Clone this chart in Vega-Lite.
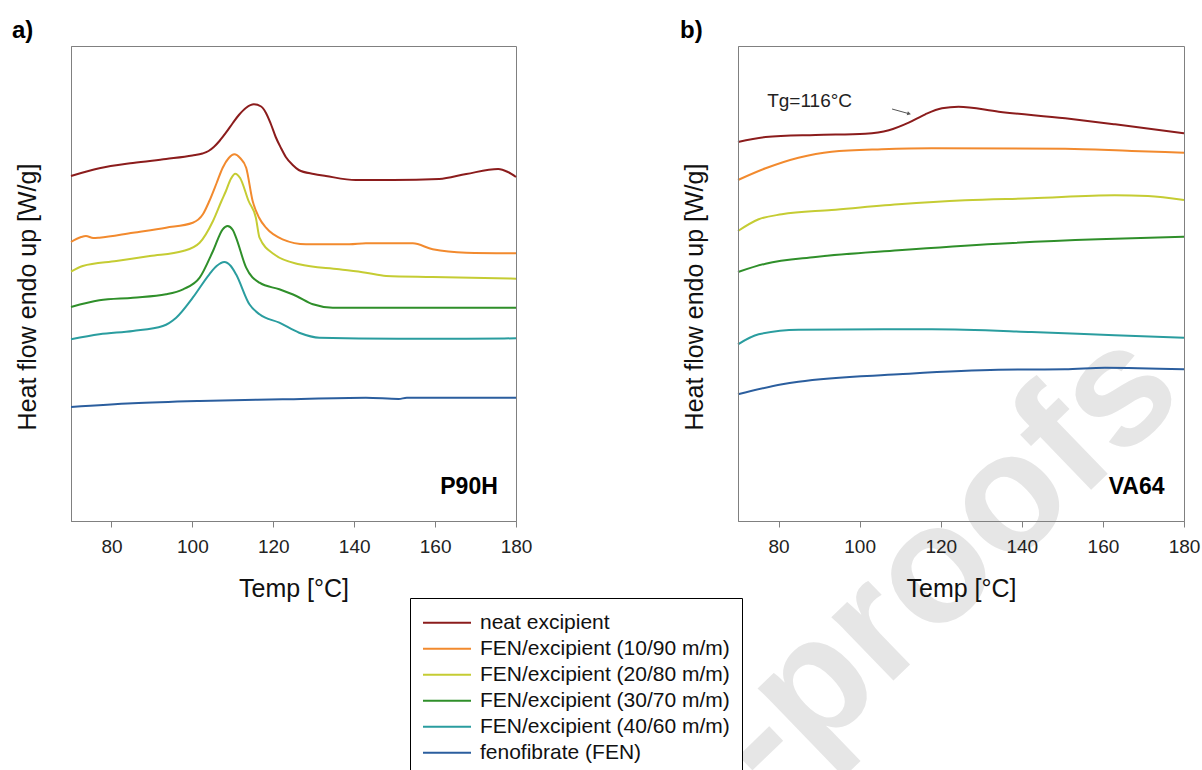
{
  "$schema": "https://vega.github.io/schema/vega-lite/v6.json",
  "background": "white",
  "padding": {"left": 11, "top": 18, "right": 0, "bottom": 0},
  "config": {
    "font": "Liberation Sans",
    "view": {"stroke": "#808080", "strokeWidth": 1},
    "axis": {"grid": false}
  },
  "bounds": "flush",
  "spacing": 222,
  "datasets": {
    "p90h": [
      {"series": "neat excipient", "T": 70, "v": 345},
      {"series": "neat excipient", "T": 77, "v": 352.7},
      {"series": "neat excipient", "T": 85.3, "v": 358},
      {"series": "neat excipient", "T": 93.5, "v": 362},
      {"series": "neat excipient", "T": 100, "v": 365.5},
      {"series": "neat excipient", "T": 102.5, "v": 367.5},
      {"series": "neat excipient", "T": 104, "v": 370},
      {"series": "neat excipient", "T": 105.3, "v": 374},
      {"series": "neat excipient", "T": 106.7, "v": 380},
      {"series": "neat excipient", "T": 108.3, "v": 388.3},
      {"series": "neat excipient", "T": 110, "v": 398},
      {"series": "neat excipient", "T": 111.5, "v": 406},
      {"series": "neat excipient", "T": 113.3, "v": 413.3},
      {"series": "neat excipient", "T": 115.2, "v": 416.7},
      {"series": "neat excipient", "T": 117, "v": 414.5},
      {"series": "neat excipient", "T": 118.2, "v": 408},
      {"series": "neat excipient", "T": 119.4, "v": 397},
      {"series": "neat excipient", "T": 120.6, "v": 384},
      {"series": "neat excipient", "T": 121.9, "v": 373},
      {"series": "neat excipient", "T": 123.1, "v": 364},
      {"series": "neat excipient", "T": 124.8, "v": 356},
      {"series": "neat excipient", "T": 126.3, "v": 351},
      {"series": "neat excipient", "T": 130, "v": 347},
      {"series": "neat excipient", "T": 133, "v": 345},
      {"series": "neat excipient", "T": 140.4, "v": 341},
      {"series": "neat excipient", "T": 149.6, "v": 341},
      {"series": "neat excipient", "T": 161, "v": 342},
      {"series": "neat excipient", "T": 167.7, "v": 347},
      {"series": "neat excipient", "T": 175.6, "v": 352},
      {"series": "neat excipient", "T": 178, "v": 349},
      {"series": "neat excipient", "T": 180, "v": 344},

      {"series": "FEN/excipient (10/90 m/m)", "T": 70, "v": 279},
      {"series": "FEN/excipient (10/90 m/m)", "T": 72.5, "v": 284},
      {"series": "FEN/excipient (10/90 m/m)", "T": 73.7, "v": 285},
      {"series": "FEN/excipient (10/90 m/m)", "T": 75.5, "v": 283},
      {"series": "FEN/excipient (10/90 m/m)", "T": 77, "v": 283.3},
      {"series": "FEN/excipient (10/90 m/m)", "T": 85.3, "v": 288.3},
      {"series": "FEN/excipient (10/90 m/m)", "T": 93.5, "v": 293.3},
      {"series": "FEN/excipient (10/90 m/m)", "T": 100.1, "v": 298.3},
      {"series": "FEN/excipient (10/90 m/m)", "T": 102.6, "v": 306.7},
      {"series": "FEN/excipient (10/90 m/m)", "T": 104.2, "v": 320},
      {"series": "FEN/excipient (10/90 m/m)", "T": 106, "v": 338},
      {"series": "FEN/excipient (10/90 m/m)", "T": 107.5, "v": 353.3},
      {"series": "FEN/excipient (10/90 m/m)", "T": 109, "v": 363},
      {"series": "FEN/excipient (10/90 m/m)", "T": 110.4, "v": 366.7},
      {"series": "FEN/excipient (10/90 m/m)", "T": 111.8, "v": 363},
      {"series": "FEN/excipient (10/90 m/m)", "T": 113.3, "v": 353.3},
      {"series": "FEN/excipient (10/90 m/m)", "T": 114.9, "v": 320},
      {"series": "FEN/excipient (10/90 m/m)", "T": 116.5, "v": 303.3},
      {"series": "FEN/excipient (10/90 m/m)", "T": 118.2, "v": 293.3},
      {"series": "FEN/excipient (10/90 m/m)", "T": 122.3, "v": 281.7},
      {"series": "FEN/excipient (10/90 m/m)", "T": 128.1, "v": 276.7},
      {"series": "FEN/excipient (10/90 m/m)", "T": 138.8, "v": 276.7},
      {"series": "FEN/excipient (10/90 m/m)", "T": 142.9, "v": 277.7},
      {"series": "FEN/excipient (10/90 m/m)", "T": 154.5, "v": 277.7},
      {"series": "FEN/excipient (10/90 m/m)", "T": 159.4, "v": 271.7},
      {"series": "FEN/excipient (10/90 m/m)", "T": 167.7, "v": 268.3},
      {"series": "FEN/excipient (10/90 m/m)", "T": 180, "v": 267.7},

      {"series": "FEN/excipient (20/80 m/m)", "T": 70, "v": 249.3},
      {"series": "FEN/excipient (20/80 m/m)", "T": 72.9, "v": 255},
      {"series": "FEN/excipient (20/80 m/m)", "T": 81.2, "v": 260},
      {"series": "FEN/excipient (20/80 m/m)", "T": 89.5, "v": 265},
      {"series": "FEN/excipient (20/80 m/m)", "T": 97.7, "v": 270},
      {"series": "FEN/excipient (20/80 m/m)", "T": 101.8, "v": 278.3},
      {"series": "FEN/excipient (20/80 m/m)", "T": 105.1, "v": 300},
      {"series": "FEN/excipient (20/80 m/m)", "T": 107.2, "v": 320},
      {"series": "FEN/excipient (20/80 m/m)", "T": 108.3, "v": 330},
      {"series": "FEN/excipient (20/80 m/m)", "T": 109.5, "v": 342},
      {"series": "FEN/excipient (20/80 m/m)", "T": 110.6, "v": 347.3},
      {"series": "FEN/excipient (20/80 m/m)", "T": 111.8, "v": 343},
      {"series": "FEN/excipient (20/80 m/m)", "T": 113.9, "v": 320},
      {"series": "FEN/excipient (20/80 m/m)", "T": 115.7, "v": 303.3},
      {"series": "FEN/excipient (20/80 m/m)", "T": 116.6, "v": 283.3},
      {"series": "FEN/excipient (20/80 m/m)", "T": 120.2, "v": 266.7},
      {"series": "FEN/excipient (20/80 m/m)", "T": 126.4, "v": 256.7},
      {"series": "FEN/excipient (20/80 m/m)", "T": 136.3, "v": 251.7},
      {"series": "FEN/excipient (20/80 m/m)", "T": 142.9, "v": 248.3},
      {"series": "FEN/excipient (20/80 m/m)", "T": 147.9, "v": 245},
      {"series": "FEN/excipient (20/80 m/m)", "T": 159.4, "v": 244},
      {"series": "FEN/excipient (20/80 m/m)", "T": 180, "v": 242.3},

      {"series": "FEN/excipient (30/70 m/m)", "T": 70, "v": 214},
      {"series": "FEN/excipient (30/70 m/m)", "T": 77, "v": 220.7},
      {"series": "FEN/excipient (30/70 m/m)", "T": 85.3, "v": 223.3},
      {"series": "FEN/excipient (30/70 m/m)", "T": 93.5, "v": 226.7},
      {"series": "FEN/excipient (30/70 m/m)", "T": 97.7, "v": 231.7},
      {"series": "FEN/excipient (30/70 m/m)", "T": 101.8, "v": 243.3},
      {"series": "FEN/excipient (30/70 m/m)", "T": 105.1, "v": 270},
      {"series": "FEN/excipient (30/70 m/m)", "T": 107.5, "v": 291.7},
      {"series": "FEN/excipient (30/70 m/m)", "T": 108.7, "v": 295},
      {"series": "FEN/excipient (30/70 m/m)", "T": 110, "v": 291},
      {"series": "FEN/excipient (30/70 m/m)", "T": 110.8, "v": 283.3},
      {"series": "FEN/excipient (30/70 m/m)", "T": 113.3, "v": 253.3},
      {"series": "FEN/excipient (30/70 m/m)", "T": 116.6, "v": 238.3},
      {"series": "FEN/excipient (30/70 m/m)", "T": 121.5, "v": 231.7},
      {"series": "FEN/excipient (30/70 m/m)", "T": 125.7, "v": 225},
      {"series": "FEN/excipient (30/70 m/m)", "T": 129.8, "v": 216.7},
      {"series": "FEN/excipient (30/70 m/m)", "T": 134.7, "v": 213.3},
      {"series": "FEN/excipient (30/70 m/m)", "T": 180, "v": 213.3},

      {"series": "FEN/excipient (40/60 m/m)", "T": 70, "v": 181.7},
      {"series": "FEN/excipient (40/60 m/m)", "T": 77, "v": 186.7},
      {"series": "FEN/excipient (40/60 m/m)", "T": 85.3, "v": 190},
      {"series": "FEN/excipient (40/60 m/m)", "T": 92.7, "v": 195},
      {"series": "FEN/excipient (40/60 m/m)", "T": 96, "v": 203.3},
      {"series": "FEN/excipient (40/60 m/m)", "T": 100.1, "v": 223.3},
      {"series": "FEN/excipient (40/60 m/m)", "T": 104.2, "v": 246.7},
      {"series": "FEN/excipient (40/60 m/m)", "T": 106, "v": 255},
      {"series": "FEN/excipient (40/60 m/m)", "T": 107.9, "v": 259},
      {"series": "FEN/excipient (40/60 m/m)", "T": 109.5, "v": 255},
      {"series": "FEN/excipient (40/60 m/m)", "T": 110.8, "v": 246.7},
      {"series": "FEN/excipient (40/60 m/m)", "T": 114.1, "v": 216.7},
      {"series": "FEN/excipient (40/60 m/m)", "T": 116.6, "v": 206.7},
      {"series": "FEN/excipient (40/60 m/m)", "T": 121.5, "v": 198.3},
      {"series": "FEN/excipient (40/60 m/m)", "T": 126.4, "v": 188.3},
      {"series": "FEN/excipient (40/60 m/m)", "T": 131.4, "v": 183.3},
      {"series": "FEN/excipient (40/60 m/m)", "T": 150.9, "v": 182.3},
      {"series": "FEN/excipient (40/60 m/m)", "T": 167.7, "v": 182.3},
      {"series": "FEN/excipient (40/60 m/m)", "T": 180, "v": 182.7},

      {"series": "fenofibrate (FEN)", "T": 70, "v": 114},
      {"series": "fenofibrate (FEN)", "T": 85.3, "v": 117.7},
      {"series": "fenofibrate (FEN)", "T": 101.8, "v": 120},
      {"series": "fenofibrate (FEN)", "T": 122.3, "v": 121.7},
      {"series": "fenofibrate (FEN)", "T": 142.9, "v": 123.3},
      {"series": "fenofibrate (FEN)", "T": 151, "v": 122},
      {"series": "fenofibrate (FEN)", "T": 153, "v": 123.3},
      {"series": "fenofibrate (FEN)", "T": 180, "v": 123.3}
    ],
    "va64": [
      {"series": "neat excipient", "T": 70, "v": 379},
      {"series": "neat excipient", "T": 76.8, "v": 384},
      {"series": "neat excipient", "T": 89.1, "v": 386},
      {"series": "neat excipient", "T": 101.4, "v": 387.3},
      {"series": "neat excipient", "T": 107.2, "v": 390.7},
      {"series": "neat excipient", "T": 112.1, "v": 398.3},
      {"series": "neat excipient", "T": 116.2, "v": 406.7},
      {"series": "neat excipient", "T": 120.3, "v": 412.7},
      {"series": "neat excipient", "T": 124.4, "v": 414.3},
      {"series": "neat excipient", "T": 134.3, "v": 409.3},
      {"series": "neat excipient", "T": 150.7, "v": 402.7},
      {"series": "neat excipient", "T": 163, "v": 396.7},
      {"series": "neat excipient", "T": 180, "v": 387.7},

      {"series": "FEN/excipient (10/90 m/m)", "T": 70, "v": 341},
      {"series": "FEN/excipient (10/90 m/m)", "T": 76.8, "v": 352.7},
      {"series": "FEN/excipient (10/90 m/m)", "T": 84.9, "v": 363.3},
      {"series": "FEN/excipient (10/90 m/m)", "T": 93.1, "v": 369.3},
      {"series": "FEN/excipient (10/90 m/m)", "T": 105.5, "v": 371.7},
      {"series": "FEN/excipient (10/90 m/m)", "T": 117.8, "v": 372.7},
      {"series": "FEN/excipient (10/90 m/m)", "T": 150.7, "v": 372.3},
      {"series": "FEN/excipient (10/90 m/m)", "T": 167.1, "v": 370},
      {"series": "FEN/excipient (10/90 m/m)", "T": 180, "v": 368.3},

      {"series": "FEN/excipient (20/80 m/m)", "T": 70, "v": 290},
      {"series": "FEN/excipient (20/80 m/m)", "T": 75.1, "v": 301.7},
      {"series": "FEN/excipient (20/80 m/m)", "T": 80.8, "v": 306.7},
      {"series": "FEN/excipient (20/80 m/m)", "T": 93.1, "v": 311},
      {"series": "FEN/excipient (20/80 m/m)", "T": 109.6, "v": 316.7},
      {"series": "FEN/excipient (20/80 m/m)", "T": 126, "v": 320.7},
      {"series": "FEN/excipient (20/80 m/m)", "T": 142.4, "v": 322.7},
      {"series": "FEN/excipient (20/80 m/m)", "T": 162.9, "v": 325.7},
      {"series": "FEN/excipient (20/80 m/m)", "T": 171.1, "v": 325},
      {"series": "FEN/excipient (20/80 m/m)", "T": 180, "v": 321},

      {"series": "FEN/excipient (30/70 m/m)", "T": 70, "v": 249},
      {"series": "FEN/excipient (30/70 m/m)", "T": 76.8, "v": 257.3},
      {"series": "FEN/excipient (30/70 m/m)", "T": 89.1, "v": 264},
      {"series": "FEN/excipient (30/70 m/m)", "T": 109.6, "v": 270.7},
      {"series": "FEN/excipient (30/70 m/m)", "T": 134.2, "v": 277.3},
      {"series": "FEN/excipient (30/70 m/m)", "T": 158.8, "v": 281.7},
      {"series": "FEN/excipient (30/70 m/m)", "T": 180, "v": 284.3},

      {"series": "FEN/excipient (40/60 m/m)", "T": 70, "v": 176.7},
      {"series": "FEN/excipient (40/60 m/m)", "T": 75.1, "v": 186.7},
      {"series": "FEN/excipient (40/60 m/m)", "T": 84.9, "v": 191.3},
      {"series": "FEN/excipient (40/60 m/m)", "T": 117.8, "v": 191.7},
      {"series": "FEN/excipient (40/60 m/m)", "T": 142.4, "v": 189},
      {"series": "FEN/excipient (40/60 m/m)", "T": 162.9, "v": 185.7},
      {"series": "FEN/excipient (40/60 m/m)", "T": 180, "v": 183.3},

      {"series": "fenofibrate (FEN)", "T": 70, "v": 126.7},
      {"series": "fenofibrate (FEN)", "T": 80.9, "v": 136.7},
      {"series": "fenofibrate (FEN)", "T": 84.9, "v": 139.3},
      {"series": "fenofibrate (FEN)", "T": 109.6, "v": 146.7},
      {"series": "fenofibrate (FEN)", "T": 134.2, "v": 151.3},
      {"series": "fenofibrate (FEN)", "T": 150.6, "v": 151.7},
      {"series": "fenofibrate (FEN)", "T": 160.5, "v": 153.3},
      {"series": "fenofibrate (FEN)", "T": 180, "v": 151.7}
    ]
  },
  "hconcat": [
    {
      "width": 445,
      "height": 475,
      "title": {"text": "a)", "anchor": "start", "frame": "group", "fontSize": 24, "fontWeight": "bold", "offset": 3, "dx": -59, "color": "#000"},
      "layer": [
        {
          "data": {"name": "p90h"},
          "mark": {"type": "line", "strokeWidth": 2, "interpolate": "monotone"},
          "encoding": {
            "x": {"field": "T", "type": "quantitative",
              "scale": {"domain": [70, 180], "nice": false, "zero": false},
              "axis": {"values": [80, 100, 120, 140, 160, 180], "title": "Temp [°C]", "titleFontSize": 25, "titleFontWeight": "normal", "titleColor": "#111", "titlePadding": 20, "labelFontSize": 19, "labelColor": "#222", "labelPadding": 10, "labelFlush": false, "tickSize": 6, "tickColor": "#808080", "domainColor": "#808080", "zindex": 1}},
            "y": {"field": "v", "type": "quantitative",
              "scale": {"domain": [0, 475], "nice": false, "zero": false},
              "axis": {"title": "Heat flow endo up [W/g]", "labels": false, "ticks": false, "titleFontSize": 25, "titleFontWeight": "normal", "titleColor": "#111", "titlePadding": 31, "titleY": 250.5, "domainColor": "#808080"}},
            "color": {"field": "series", "type": "nominal",
              "scale": {"domain": ["neat excipient", "FEN/excipient (10/90 m/m)", "FEN/excipient (20/80 m/m)", "FEN/excipient (30/70 m/m)", "FEN/excipient (40/60 m/m)", "fenofibrate (FEN)"],
                "range": ["#8B1C1C", "#F28A2E", "#C5CC33", "#2F8F2A", "#2A9D9F", "#2B5E9E"]},
              "legend": {"title": null, "orient": "none", "legendX": 339, "legendY": 552, "symbolType": "stroke", "symbolSize": 2304, "symbolStrokeWidth": 2, "clipHeight": 25.6, "rowPadding": 0, "labelFontSize": 21, "labelColor": "#111", "labelOffset": 8, "labelLimit": 400, "padding": 12, "strokeColor": "#000", "fillColor": "#fff"}}
          }
        },
        {
          "data": {"values": [{}]},
          "mark": {"type": "text", "text": "P90H", "fontSize": 23, "fontWeight": "bold", "align": "right", "baseline": "alphabetic", "color": "#000"},
          "encoding": {"x": {"datum": 175.5}, "y": {"datum": 27}}
        }
      ]
    },
    {
      "width": 446,
      "height": 475,
      "title": {"text": "b)", "anchor": "start", "frame": "group", "fontSize": 24, "fontWeight": "bold", "offset": 3, "dx": -58, "color": "#000"},
      "layer": [
        {
          "data": {"values": [{}]},
          "mark": {"type": "text", "text": "-proofs", "fontSize": 168, "fontWeight": "bold", "align": "right", "baseline": "alphabetic", "angle": -44, "color": "#e6e6e6"},
          "encoding": {"x": {"datum": 180.8}, "y": {"datum": 124}}
        },
        {
          "data": {"name": "va64"},
          "mark": {"type": "line", "strokeWidth": 2, "interpolate": "monotone"},
          "encoding": {
            "x": {"field": "T", "type": "quantitative",
              "scale": {"domain": [70, 180], "nice": false, "zero": false},
              "axis": {"values": [80, 100, 120, 140, 160, 180], "title": "Temp [°C]", "titleFontSize": 25, "titleFontWeight": "normal", "titleColor": "#111", "titlePadding": 20, "labelFontSize": 19, "labelColor": "#222", "labelPadding": 10, "labelFlush": false, "tickSize": 6, "tickColor": "#808080", "domainColor": "#808080", "zindex": 1}},
            "y": {"field": "v", "type": "quantitative",
              "scale": {"domain": [0, 475], "nice": false, "zero": false},
              "axis": {"title": "Heat flow endo up [W/g]", "labels": false, "ticks": false, "titleFontSize": 25, "titleFontWeight": "normal", "titleColor": "#111", "titlePadding": 31, "titleY": 250.5, "domainColor": "#808080", "zindex": 1}},
            "color": {"field": "series", "type": "nominal",
              "scale": {"domain": ["neat excipient", "FEN/excipient (10/90 m/m)", "FEN/excipient (20/80 m/m)", "FEN/excipient (30/70 m/m)", "FEN/excipient (40/60 m/m)", "fenofibrate (FEN)"],
                "range": ["#8B1C1C", "#F28A2E", "#C5CC33", "#2F8F2A", "#2A9D9F", "#2B5E9E"]},
              "legend": {"title": null, "orient": "none", "legendX": 339, "legendY": 552, "symbolType": "stroke", "symbolSize": 2304, "symbolStrokeWidth": 2, "clipHeight": 25.6, "rowPadding": 0, "labelFontSize": 21, "labelColor": "#111", "labelOffset": 8, "labelLimit": 400, "padding": 12, "strokeColor": "#000", "fillColor": "#fff"}}
          }
        },
        {
          "data": {"values": [{}]},
          "mark": {"type": "text", "text": "VA64", "fontSize": 23, "fontWeight": "bold", "align": "right", "baseline": "alphabetic", "color": "#000"},
          "encoding": {"x": {"datum": 175.2}, "y": {"datum": 27}}
        },
        {
          "data": {"values": [{}]},
          "mark": {"type": "text", "text": "Tg=116°C", "fontSize": 19, "align": "left", "baseline": "alphabetic", "color": "#222"},
          "encoding": {"x": {"datum": 77.2}, "y": {"datum": 414}}
        },
        {
          "data": {"values": [{}]},
          "mark": {"type": "rule", "color": "#555", "strokeWidth": 1},
          "encoding": {"x": {"datum": 108}, "y": {"datum": 412}, "x2": {"datum": 112}, "y2": {"datum": 407.5}}
        },
        {
          "data": {"values": [{}]},
          "mark": {"type": "point", "shape": "triangle-right", "filled": true, "color": "#555", "size": 18, "angle": 16, "opacity": 1},
          "encoding": {"x": {"datum": 112.2}, "y": {"datum": 407.3}}
        }
      ]
    }
  ]
}
